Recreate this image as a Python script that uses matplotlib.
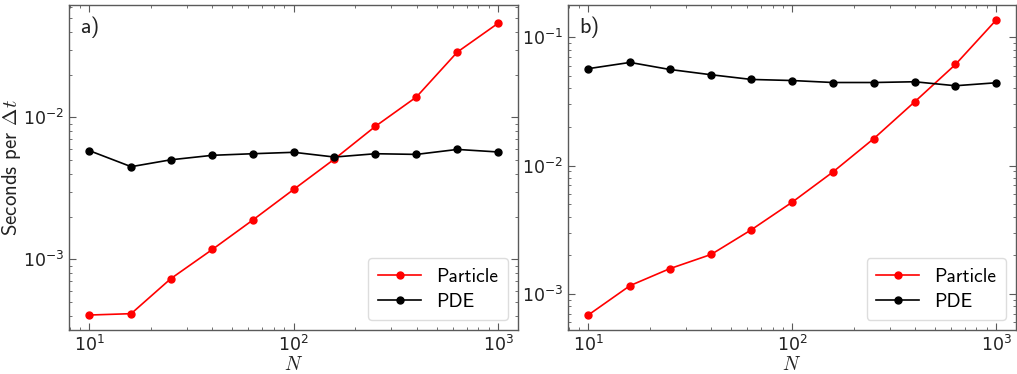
import matplotlib
matplotlib.use("Agg")
import matplotlib.pyplot as plt

plt.rcParams['mathtext.fontset'] = 'cm'
plt.rcParams['axes.unicode_minus'] = False

N = [10, 16, 25, 40, 63, 100, 158, 251, 398, 631, 1000]

particle_a = [4.05e-4, 4.14e-4, 7.3e-4, 1.175e-3, 1.89e-3, 3.11e-3, 5.08e-3, 8.65e-3, 1.39e-2, 2.88e-2, 4.6e-2]
pde_a = [5.82e-3, 4.49e-3, 5.02e-3, 5.40e-3, 5.54e-3, 5.67e-3, 5.25e-3, 5.54e-3, 5.48e-3, 5.94e-3, 5.70e-3]

particle_b = [6.86e-4, 1.16e-3, 1.57e-3, 2.03e-3, 3.16e-3, 5.19e-3, 8.89e-3, 1.62e-2, 3.13e-2, 6.12e-2, 0.136]
pde_b = [5.68e-2, 6.35e-2, 5.60e-2, 5.09e-2, 4.68e-2, 4.59e-2, 4.43e-2, 4.43e-2, 4.49e-2, 4.18e-2, 4.41e-2]

panel_labels = ['a)', 'b)']
series_names = ['Particle', 'PDE']

sans = 'cmss10'
spine_col = '#5a5a5a'

fig = plt.figure(figsize=(10.17, 3.74), dpi=100)
ax_a = fig.add_axes([69/1017, 1-330/374, (518-69)/1017, (330-5)/374])
ax_b = fig.add_axes([568/1017, 1-330/374, (1016-568)/1017, (330-5)/374])

for ax, part, pde, lab in [(ax_a, particle_a, pde_a, panel_labels[0]),
                           (ax_b, particle_b, pde_b, panel_labels[1])]:
    ax.plot(N, part, '-o', color='red', lw=1.2, ms=5, label=series_names[0])
    ax.plot(N, pde, '-o', color='black', lw=1.2, ms=5, label=series_names[1])
    ax.set_xscale('log')
    ax.set_yscale('log')
    ax.tick_params(which='both', direction='in', top=True, right=True,
                   colors=spine_col, labelcolor='#222222', labelsize=12.5)
    ax.tick_params(which='major', length=5)
    ax.tick_params(which='minor', length=2.5)
    for s in ax.spines.values():
        s.set_color(spine_col)
        s.set_linewidth(1.0)
    ax.set_xlabel('$N$', fontsize=14, labelpad=0, color='#222222')
    ax.text(0.025, 0.965, lab, transform=ax.transAxes, ha='left', va='top',
            family=sans, fontsize=16, color='#222222')
    leg = ax.legend(loc='lower right', prop={'family': sans, 'size': 14},
                    handlelength=2.2, borderpad=0.5, labelspacing=0.35,
                    framealpha=1.0)
    leg.get_frame().set_edgecolor('#dddddd')

ax_a.set_ylim(10**-3.498, 10**-1.209)
ax_b.set_ylim(10**-3.281, 10**-0.75)
ax_a.set_xlim(10**0.90, 10**3.097)
ax_b.set_xlim(10**0.90, 10**3.097)

ax_a.set_ylabel('Seconds per $\\Delta t$', family=sans, fontsize=15, color='#222222')
ax_a.yaxis.set_label_coords(-0.1025, 0.5)

fig.savefig('out.png', dpi=100)
